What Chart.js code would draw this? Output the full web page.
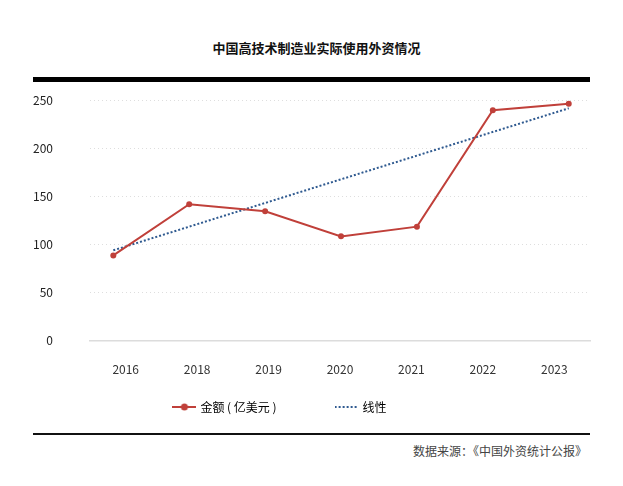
<!DOCTYPE html>
<html>
<head>
<meta charset="utf-8">
<script src="https://cdn.jsdelivr.net/npm/chart.js@4.4.1/dist/chart.umd.min.js"></script>
<style>
  body { margin: 0; width: 623px; height: 486px; background: #fff; position: relative; overflow: hidden;
         font-family: 'Noto Sans CJK SC', 'Noto Sans', sans-serif; }
  #title { position: absolute; left: 5px; top: 38px; width: 623px; text-align: center;
           font-size: 13px; font-weight: bold; color: #111; }
  #topBar { position: absolute; left: 33px; top: 77px; width: 557px; height: 5px; background: #000; }
  #wrap { position: absolute; left: -29px; top: 85px; }
  #bottomBar { position: absolute; left: 33px; top: 433px; width: 557px; height: 2px; background: #111; }
  #source { position: absolute; right: 36px; top: 442px; font-size: 12px; color: #444; }
</style>
</head>
<body>
<div id="title">中国高技术制造业实际使用外资情况</div>
<div id="topBar"></div>
<div id="wrap"><canvas id="myChart" width="652" height="338"></canvas></div>
<div id="bottomBar"></div>
<div id="source">数据来源：《中国外资统计公报》</div>
<script>
const years = ['2016', '2018', '2019', '2020', '2021', '2022', '2023'];
const amounts = [88.5, 141.7, 134.4, 108.3, 118.4, 239.3, 246.1];
// trend line read at first and last year
const trendIndex = [0, 6];
const trendValues = [93.8, 241.4];
const yTicks = [0, 50, 100, 150, 200, 250];

const red = '#c0403a';
const blue = '#2f5a90';

Chart.defaults.font.family = "'Noto Sans CJK SC', 'Noto Sans', sans-serif";

function makeIcon(dotted) {
    const c = document.createElement('canvas');
    c.width = 24; c.height = 8;
    const g = c.getContext('2d');
    g.lineWidth = 2;
    g.strokeStyle = dotted ? blue : red;
    if (dotted) g.setLineDash([2, 2]);
    g.beginPath(); g.moveTo(0, 4); g.lineTo(24, 4); g.stroke();
    if (!dotted) {
        g.fillStyle = red;
        g.beginPath(); g.arc(12, 4, 3.5, 0, Math.PI * 2); g.fill();
    }
    return c;
}
const icons = [makeIcon(false), makeIcon(true)];

const ctx = document.getElementById('myChart').getContext('2d');
const myChart = new Chart(ctx, {
    type: 'line',
    data: {
        labels: years,
        datasets: [{
            label: '金额 ( 亿美元 )',
            xAxisID: 'xp',
            data: amounts.map((v, i) => ({ x: i, y: v })),
            borderColor: red,
            backgroundColor: red,
            borderWidth: 2,
            pointRadius: 3,
            pointBackgroundColor: red,
            pointBorderWidth: 0,
            tension: 0
        }, {
            label: '线性',
            xAxisID: 'xp',
            data: trendIndex.map((x, i) => ({ x: x, y: trendValues[i] })),
            borderColor: blue,
            borderWidth: 2,
            borderDash: [2, 2],
            pointRadius: 0
        }]
    },
    options: {
        responsive: false,
        devicePixelRatio: 1,
        animation: false,
        layout: { padding: { top: 15, right: 33, left: 0, bottom: 0 } },
        plugins: {
            tooltip: { enabled: false },
            legend: {
                position: 'bottom',
                labels: {
                    usePointStyle: true,
                    pointStyleWidth: 20,
                    padding: 24,
                    color: '#444',
                    font: { size: 12 },
                    generateLabels: function(chart) {
                        // extra ideographic spaces widen the gap between the two items
                        return chart.data.datasets.map((ds, i) => ({
                            text: ds.label + (i === 0 ? '\u3000\u3000\u3000' : ''),
                            pointStyle: icons[i],
                            fillStyle: ds.borderColor,
                            strokeStyle: ds.borderColor,
                            lineWidth: 0,
                            hidden: false,
                            datasetIndex: i
                        }));
                    }
                }
            }
        },
        scales: {
            // category axis only for the year labels
            x: {
                type: 'category',
                offset: true,
                afterFit: function(scale) { scale.height = 36.4; },
                grid: { display: false, drawTicks: false },
                border: { display: true, color: '#dcdcdc', width: 1.5 },
                ticks: {
                    maxRotation: 0,
                    autoSkip: false,
                    padding: 22,
                    color: '#333',
                    font: { size: 12 }
                }
            },
            // hidden linear axis the lines are plotted on
            xp: {
                type: 'linear',
                display: false,
                min: -0.307,
                max: 6.28
            },
            y: {
                min: yTicks[0],
                max: yTicks[yTicks.length - 1],
                afterFit: function(scale) {
                    scale.width = 119;
                    // tick padding is only meant as horizontal gap
                    scale.paddingTop = 7;
                    scale.paddingBottom = 7;
                },
                grid: { color: '#dedede', lineWidth: 1, drawTicks: false },
                border: { display: false, dash: [1, 3] },
                ticks: {
                    stepSize: 50,
                    padding: 37,
                    color: '#222',
                    font: { size: 12 }
                }
            }
        }
    }
});
</script>
</body>
</html>
